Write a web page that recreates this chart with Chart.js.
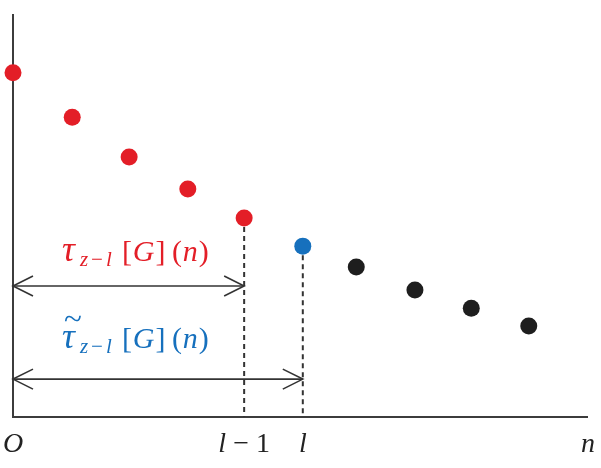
<!DOCTYPE html>
<html>
<head>
<meta charset="utf-8">
<script src="https://cdn.jsdelivr.net/npm/chart.js@4/dist/chart.umd.min.js"></script>
<style>
  body { margin: 0; background: #fff; }
  canvas { display: block; }
</style>
</head>
<body>
<canvas id="chart" width="601" height="468"></canvas>
<script>
// data (n on x, value on y)
const redN = [0, 1.03, 2.02, 3.04, 4.02];
const redVals = [8.54, 7.44, 6.45, 5.66, 4.94];
const blueN = [5.04];
const blueVals = [4.24];
const blackN = [5.97, 6.99, 7.97, 8.97];
const blackVals = [3.72, 3.15, 2.70, 2.26];

const tickPositions = [0, 4.02, 5.04, 10];
const tickLabels = ["O", "l − 1", "l", "n"];

const RED = "#e31e27";
const BLUE = "#1670bd";
const BLACK = "#1e1e1e";
const SERIF = "'Liberation Serif', 'DejaVu Serif', serif";

function toPoints(xs, ys) {
    return xs.map((x, i) => ({ x: x, y: ys[i] }));
}

// letters italic, everything else upright (like TeX math)
function drawMath(ctx, text, x, y, size, color, gap) {
    gap = gap || 0;
    ctx.fillStyle = color;
    ctx.textBaseline = "alphabetic";
    ctx.textAlign = "left";
    let cx = x;
    for (const ch of text) {
        const italic = /[A-Za-z\u03b1-\u03c9]/.test(ch);
        ctx.font = (italic ? "italic " : "") + size + "px " + SERIF;
        ctx.fillText(ch, cx, y);
        cx += ctx.measureText(ch).width + gap;
    }
    return cx - x;
}

function mathWidth(ctx, text, size) {
    let w = 0;
    for (const ch of text) {
        const italic = /[A-Za-z\u03b1-\u03c9]/.test(ch);
        ctx.font = (italic ? "italic " : "") + size + "px " + SERIF;
        w += ctx.measureText(ch).width;
    }
    return w;
}

function drawFormula(ctx, x, y, color, tilde) {
    drawMath(ctx, "τ", x, y, 36, color);
    if (tilde) {
        ctx.save();
        ctx.font = "30px " + SERIF;
        ctx.textAlign = "center";
        ctx.translate(x + 11, y - 19);
        ctx.scale(1.1, 1);
        ctx.fillText("~", 0, 0);
        ctx.restore();
    }
    drawMath(ctx, "z−l", x + 18, y + 5, 21, color, 3);
    drawMath(ctx, "[G]", x + 60, y, 30, color, 1);
    drawMath(ctx, "(n)", x + 110, y, 30, color, 1);
}

function arrowHead(ctx, x, y, dir) {
    ctx.beginPath();
    ctx.moveTo(x - dir * 20, y - 10);
    ctx.lineTo(x, y);
    ctx.lineTo(x - dir * 20, y + 10);
    ctx.stroke();
}

function doubleArrow(ctx, x1, x2, y) {
    ctx.beginPath();
    ctx.moveTo(x1, y);
    ctx.lineTo(x2, y);
    ctx.stroke();
    arrowHead(ctx, x1, y, -1);
    arrowHead(ctx, x2, y, 1);
}

const decorations = {
    id: "decorations",
    beforeDatasetsDraw(chart) {
        const ctx = chart.ctx;
        const xs = chart.scales.x;
        const ys = chart.scales.y;
        const area = chart.chartArea;
        ctx.save();
        // axes
        ctx.strokeStyle = "#3c3c3c";
        ctx.lineWidth = 2;
        ctx.beginPath();
        ctx.moveTo(area.left, area.top);
        ctx.lineTo(area.left, area.bottom);
        ctx.lineTo(area.right, area.bottom);
        ctx.stroke();

        // dashed drops from l-1 and l
        ctx.setLineDash([5, 4]);
        ctx.strokeStyle = "#333";
        ctx.lineWidth = 2;
        const drops = [[redN[redN.length - 1], redVals[redVals.length - 1]], [blueN[0], blueVals[0]]];
        drops.forEach(d => {
            ctx.beginPath();
            ctx.moveTo(xs.getPixelForValue(d[0]), ys.getPixelForValue(d[1]));
            ctx.lineTo(xs.getPixelForValue(d[0]), area.bottom);
            ctx.stroke();
        });
        ctx.setLineDash([]);

        // arrows
        ctx.strokeStyle = "#333";
        ctx.lineWidth = 1.6;
        doubleArrow(ctx, xs.getPixelForValue(0), xs.getPixelForValue(drops[0][0]), ys.getPixelForValue(3.25));
        doubleArrow(ctx, xs.getPixelForValue(0), xs.getPixelForValue(drops[1][0]), ys.getPixelForValue(0.94));
        ctx.restore();
    },
    afterDraw(chart) {
        const ctx = chart.ctx;
        const xs = chart.scales.x;
        const ys = chart.scales.y;
        ctx.save();
        drawFormula(ctx, xs.getPixelForValue(0.85), ys.getPixelForValue(3.88), RED, false);
        drawFormula(ctx, xs.getPixelForValue(0.85), ys.getPixelForValue(1.72), BLUE, true);

        // axis labels
        tickLabels.forEach((t, i) => {
            const w = mathWidth(ctx, t, 28);
            drawMath(ctx, t, xs.getPixelForValue(tickPositions[i]) - w / 2, 452, 28, "#222");
        });
        ctx.restore();
    }
};

new Chart(document.getElementById("chart"), {
    type: "scatter",
    data: {
        datasets: [
            { data: toPoints(redN, redVals), backgroundColor: RED },
            { data: toPoints(blueN, blueVals), backgroundColor: BLUE },
            { data: toPoints(blackN, blackVals), backgroundColor: BLACK }
        ]
    },
    options: {
        responsive: false,
        animation: false,
        layout: { padding: { left: 13, right: 13, top: 14, bottom: 51 } },
        elements: { point: { radius: 8.5, borderWidth: 0, hoverRadius: 8.5 } },
        datasets: { scatter: { clip: false } },
        scales: {
            x: { type: "linear", min: 0, max: 10, display: false },
            y: { type: "linear", min: 0, max: 10, display: false }
        },
        plugins: {
            legend: { display: false },
            tooltip: { enabled: false }
        }
    },
    plugins: [decorations]
});
</script>
</body>
</html>
